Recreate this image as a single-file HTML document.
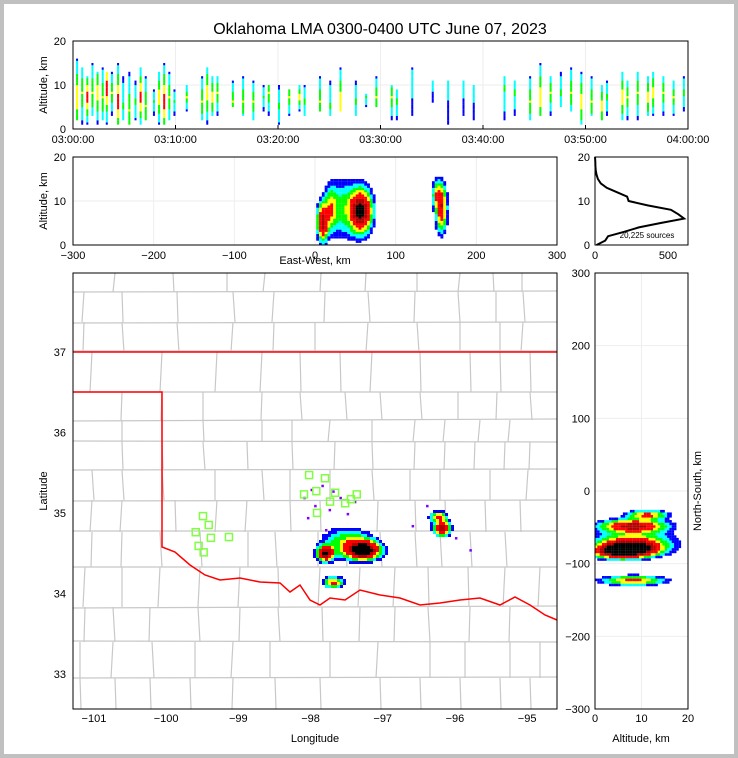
<!DOCTYPE html>
<html><head><meta charset="utf-8"><style>
html,body{margin:0;padding:0;background:#c0c0c0;}
#wrap{position:absolute;left:4px;top:4px;width:730px;height:750px;background:#fff;}
svg{position:absolute;left:0;top:0;}
text{font-family:"Liberation Sans",sans-serif;fill:#000;}
</style></head><body>
<div id="wrap"></div>
<svg id="fig" width="738" height="758" viewBox="0 0 738 758"></svg>
<script>
// ---- data ----
const timeTicks=["03:00:00","03:10:00","03:20:00","03:30:00","03:40:00","03:50:00","04:00:00"];
const flashMinute=[0.3,0.8,1.3,1.8,2.3,2.8,3.2,3.7,4.3,4.8,5.4,6,6.5,7,7.8,8.3,8.8,9.3,9.8,11,12.5,13,13.5,14,15.5,16.5,17.5,18.5,19,20,21,22,22.5,24,25,26,27.5,28.5,29.5,31,31.5,33,35,36.5,38,39,42,43,44.5,45.5,46.5,47.5,48.5,49.5,50.5,51.5,52,53.5,54,55,56,56.5,57.5,58.5,59.5];
const flashLo=[2,1,1,3,1,2,1,3,1,2,1,2,1,2,3,1,1,2,3,4,2,1,3,3,5,3,2,4,3,1,3,4,3,4,3,4,3,5,5,2,2,3,6,1,3,2,2,3,2,3,3,5,4,1,3,2,3,2,2,2,3,3,3,3,4];
const flashHi=[16,14,12,15,13,14,13,13,15,12,13,11,14,12,9,13,15,13,9,10,12,14,12,12,11,12,11,10,10,10,9,10,10,12,11,14,11,8,12,10,9,14,11,11,11,10,12,11,12,15,12,13,14,13,12,10,11,13,11,13,12,13,12,11,12];
const flashPeak=[7,8,7,8,8,7,9,8,6,5,4,6,7,5,6,7,6,7,6,7,6,8,7,8,6,6,6,7,8,5,7,7,6,6,5,6,6,7,7,7,6,10,10,10,10,9,9,8,6,7,8,8,8,6,6,5,7,7,7,8,7,8,8,7,8];
const flashRate=[4,3,5,3,4,3,5,3,5,2,3,2,5,3,2,4,5,3,2,3,3,4,4,3,3,3,3,2,3,2,3,4,2,3,2,4,2,2,3,3,2,1,1,1,1,1,2,2,3,4,3,2,3,4,3,4,2,4,3,3,4,4,3,3,2];
// storm cells in km (x east, y north, z alt)
const cellX=[8,55,18,155,35,150];
const cellY=[-85,-80,-125,-50,-70,-35];
const cellZ=[5,7.5,8,8,8,11];
const cellSx=[4,8,5,4,12,4];
const cellSy=[4,5,3,4,8,3];
const cellSz=[2.5,2.8,3,3,4,2];
const cellW=[0.9,1.2,0.4,0.7,0.25,0.4];
const histAlt=[0,1,2,3,4,5,6,7,8,9,10,11,12,13,14,15,16,17,18,19,20];
const histCount=[10,70,90,200,300,450,610,570,520,360,230,220,150,80,40,20,10,5,3,2,0];
const stationLon=[-98.02,-97.80,-98.09,-97.92,-97.66,-97.36,-97.44,-97.52,-97.73,-97.91,-99.49,-99.41,-99.59,-99.38,-99.55,-99.48,-99.13];
const stationLat=[35.47,35.43,35.23,35.27,35.25,35.23,35.17,35.12,35.14,35.00,34.96,34.85,34.76,34.69,34.59,34.51,34.70];
const sparseLon=[-98.1,-98.0,-97.85,-97.7,-97.95,-97.6,-97.5,-98.05,-97.8,-97.75,-97.4,-96.6,-96.0,-95.8,-96.4];
const sparseLat=[35.2,35.3,35.35,35.28,35.1,35.2,35.0,34.95,34.8,35.05,35.15,34.85,34.7,34.55,35.1];
const redRiverX=[162,175,190,205,220,240,260,280,290,300,310,320,330,345,360,380,400,420,440,460,480,500,515,530,545,557];
const redRiverY=[547,552,565,575,580,578,582,583,592,585,600,605,598,600,590,595,598,605,603,600,598,605,597,605,615,620];
const lonTicks=[-101,-100,-99,-98,-97,-96,-95];
const latTicks=[33,34,35,36,37];
// ---- helpers ----
const NS="http://www.w3.org/2000/svg";
const svg=document.getElementById('fig');
function mk(tag,attrs,parent){const e=document.createElementNS(NS,tag);for(const k in attrs)e.setAttribute(k,attrs[k]);(parent||svg).appendChild(e);return e;}
function txt(s,x,y,size,anchor,rot){const t=mk('text',{x:x,y:y,'font-size':size,'text-anchor':anchor||'middle'});if(rot)t.setAttribute('transform','rotate('+rot+' '+x+' '+y+')');t.textContent=s;return t;}
const COLORS=['#0000ff','#00ffff','#00ff00','#ffff00','#ff0000','#b00000','#000000','#ffffff'];
const TH=[0.06,0.12,0.2,0.32,0.45,0.75,1.05,1.35];
function levelOf(d){let l=-1;for(let i=0;i<TH.length-1;i++)if(d>=TH[i])l=i;return l;}
function dens(fx,fy,fz,sc){sc=sc||1;let s=0;for(let i=0;i<cellX.length;i++){let q=0;if(fx!==null)q+=((fx-cellX[i])/(cellSx[i]*sc))**2;if(fy!==null)q+=((fy-cellY[i])/(cellSy[i]*sc))**2;if(fz!==null)q+=((fz-cellZ[i])/(cellSz[i]*sc))**2;s+=cellW[i]*Math.exp(-0.5*q);}return s;}
// axis functions
const tX=m=>73+m*(615/60), altTop=z=>129-z*4.4;
const ewX=x=>73+(x+300)*(484/600), altMid=z=>245-z*4.4;
const hX=c=>595+c*(73/500);
const lonX=l=>73+(l+101.29)*72.2, latY=l=>273+(37.98-l)*80.5;
const altR=z=>595+z*(93/20), nsY=y=>273+(300-y)*(436/600);

txt('Oklahoma LMA 0300-0400 UTC June 07, 2023',380,34,16);

// ---- top panel ----
const gTop=mk('g',{});
for(let i=0;i<7;i++){const x=tX(i*10);mk('line',{x1:x,y1:41,x2:x,y2:129,stroke:'#eee'},gTop);}
mk('line',{x1:73,y1:altTop(10),x2:688,y2:altTop(10),stroke:'#eee'},gTop);
for(let i=0;i<flashMinute.length;i++){
  const lo=flashLo[i],hi=flashHi[i],pk=flashPeak[i],half=Math.max(pk-lo,hi-pk)+0.5;
  for(let z=lo;z<hi;z+=0.5){
    const l=Math.max(0,Math.min(5,Math.round(0.85*flashRate[i]*(1-Math.abs(z-pk)/half))));
    const r=mk('rect',{x:tX(flashMinute[i]),y:altTop(z+0.5),width:2,height:2.3,fill:COLORS[l]},gTop);
    
  }
}
mk('rect',{x:73,y:41,width:615,height:88,fill:'none',stroke:'#000','stroke-width':1},gTop);
timeTicks.forEach((s,i)=>{txt(s,tX(i*10),143,11);mk('line',{x1:tX(i*10),y1:129,x2:tX(i*10),y2:125,stroke:'#000'},gTop);});
[0,10,20].forEach(v=>{txt(String(v),66,altTop(v)+4,11,'end');});
txt('Altitude, km',47,85,11,'middle',-90);

// ---- middle EW panel ----
const gMid=mk('g',{});
for(let v=-300;v<=300;v+=100)mk('line',{x1:ewX(v),y1:157,x2:ewX(v),y2:245,stroke:'#eee'},gMid);
mk('line',{x1:73,y1:altMid(10),x2:557,y2:altMid(10),stroke:'#eee'},gMid);
for(let x=-30;x<=200;x+=3.5)for(let z=0;z<20;z+=0.5){
  const l=levelOf(dens(x,null,z));if(l<0)continue;
  const r=mk('rect',{x:ewX(x),y:altMid(z+0.5),width:2.9,height:2.3,fill:COLORS[l]},gMid);
  
}
mk('rect',{x:73,y:157,width:484,height:88,fill:'none',stroke:'#000'},gMid);
for(let v=-300;v<=300;v+=100){txt(v<0?'\u2212'+(-v):String(v),ewX(v),259,11);}
[0,10,20].forEach(v=>txt(String(v),66,altMid(v)+4,11,'end'));
txt('Altitude, km',47,201,11,'middle',-90);
txt('East-West, km',315,264,11);

// ---- histogram ----
const gH=mk('g',{});
let p='';histAlt.forEach((a,i)=>{p+=(i?'L':'M')+hX(histCount[i]).toFixed(1)+','+altMid(a).toFixed(1);});
const hl=mk('path',{d:p,fill:'none',stroke:'#000','stroke-width':2},gH);
mk('rect',{x:595,y:157,width:93,height:88,fill:'none',stroke:'#000'},gH);
txt('0',595,259,11);txt('500',hX(500),259,11);
[0,10,20].forEach(v=>txt(String(v),590,altMid(v)+4,11,'end'));
txt('20,225 sources',647,238,8);

// ---- map ----
const gM=mk('g',{});
const rowsY=[273,292,322,352,392,420,442,470,500,532,567,607,642,678,709];
const rowsV=[[115,173,227,265,321,366,417,460,493,522],[84,122,177,233,274,325,368,415,458,496,523],[84,122,177,233,274,315,368,417,460,500,523],[92,162,217,262,300,340,372,420,470,500,530],[122,162,203,262,300,345,380,420,458,497,530],[122,162,203,262,292,330,372,415,445,480,510],[122,162,203,247,292,335,372,415,445,475,505,530],[92,122,162,215,262,290,330,372,410,440,490,528],[92,122,175,217,247,290,320,378,415,445,485,520],[92,122,160,200,248,275,318,345,380,415,440,470,505],[85,122,160,200,240,278,320,360,395,428,468,505,540],[85,113,150,198,240,278,322,360,395,428,470,510],[80,113,152,195,233,270,330,378,430,465,510,540],[80,115,150,190,233,275,320,380,420,460,500,530]];
rowsY.forEach((y,i)=>{if(i>0&&i<rowsY.length-1)mk('line',{x1:73,y1:y+(i%3)-1,x2:557,y2:y-(i%2),stroke:'#c8c8c8','stroke-width':1.2},gM);});
rowsV.forEach((xs,i)=>xs.forEach(x=>mk('line',{x1:x,y1:rowsY[i],x2:x+((i+x)%5-2),y2:rowsY[i+1],stroke:'#c8c8c8','stroke-width':1.2},gM)));
let rr='M73,352L557,352M73,392L162,392L162,'+redRiverY[0];redRiverX.forEach((x,i)=>{rr+='L'+x+','+redRiverY[i];});
const ok=mk('path',{d:rr,fill:'none',stroke:'#ff0000','stroke-width':1.5},gM);
sparseLon.forEach((l,i)=>{const r=mk('rect',{x:lonX(l),y:latY(sparseLat[i]),width:2.5,height:2.5,fill:'#8000ff'},gM);});
for(let px=250;px<500;px+=3)for(let py=450;py<610;py+=3){
  const lon=-101.29+(px-73)/72.2,lat=37.98-(py-273)/80.5;
  const x=(lon+97.9)*91,y=(lat-35.28)*111;
  const l=levelOf(dens(x,y,null,1.5)*1.3);if(l<0)continue;
  const r=mk('rect',{x:px,y:py,width:3,height:3,fill:COLORS[l]},gM);
}
stationLon.forEach((l,i)=>{const r=mk('rect',{x:lonX(l)-3.5,y:latY(stationLat[i])-3.5,width:7,height:7,fill:'none',stroke:'#80ff40','stroke-width':1.5},gM);});
mk('rect',{x:73,y:273,width:484,height:436,fill:'none',stroke:'#000'},gM);
lonTicks.forEach(v=>txt('\u2212'+(-v),lonX(v),722,11));
latTicks.forEach(v=>txt(String(v),66,latY(v)+4,11,'end'));
txt('Longitude',315,742,11);
txt('Latitude',47,491,11,'middle',-90);

// ---- right NS panel ----
const gR=mk('g',{});
for(let v=-300;v<=300;v+=100)mk('line',{x1:595,y1:nsY(v),x2:688,y2:nsY(v),stroke:'#eee'},gR);
mk('line',{x1:altR(10),y1:273,x2:altR(10),y2:709,stroke:'#eee'},gR);
for(let z=0;z<20;z+=0.5)for(let y=-145;y<0;y+=3.5){
  const l=levelOf(dens(null,y,z,1.3)*1.3);if(l<0)continue;
  const r=mk('rect',{x:altR(z),y:nsY(y+3.5),width:2.4,height:2.6,fill:COLORS[l]},gR);
}
mk('rect',{x:595,y:273,width:93,height:436,fill:'none',stroke:'#000'},gR);
for(let v=-300;v<=300;v+=100)txt(v<0?'\u2212'+(-v):String(v),590,nsY(v)+4,11,'end');
[0,10,20].forEach(v=>txt(String(v),altR(v),722,11));
txt('Altitude, km',641,742,11);
txt('North-South, km',701,491,11,'middle',-90);
</script>
</body></html>
